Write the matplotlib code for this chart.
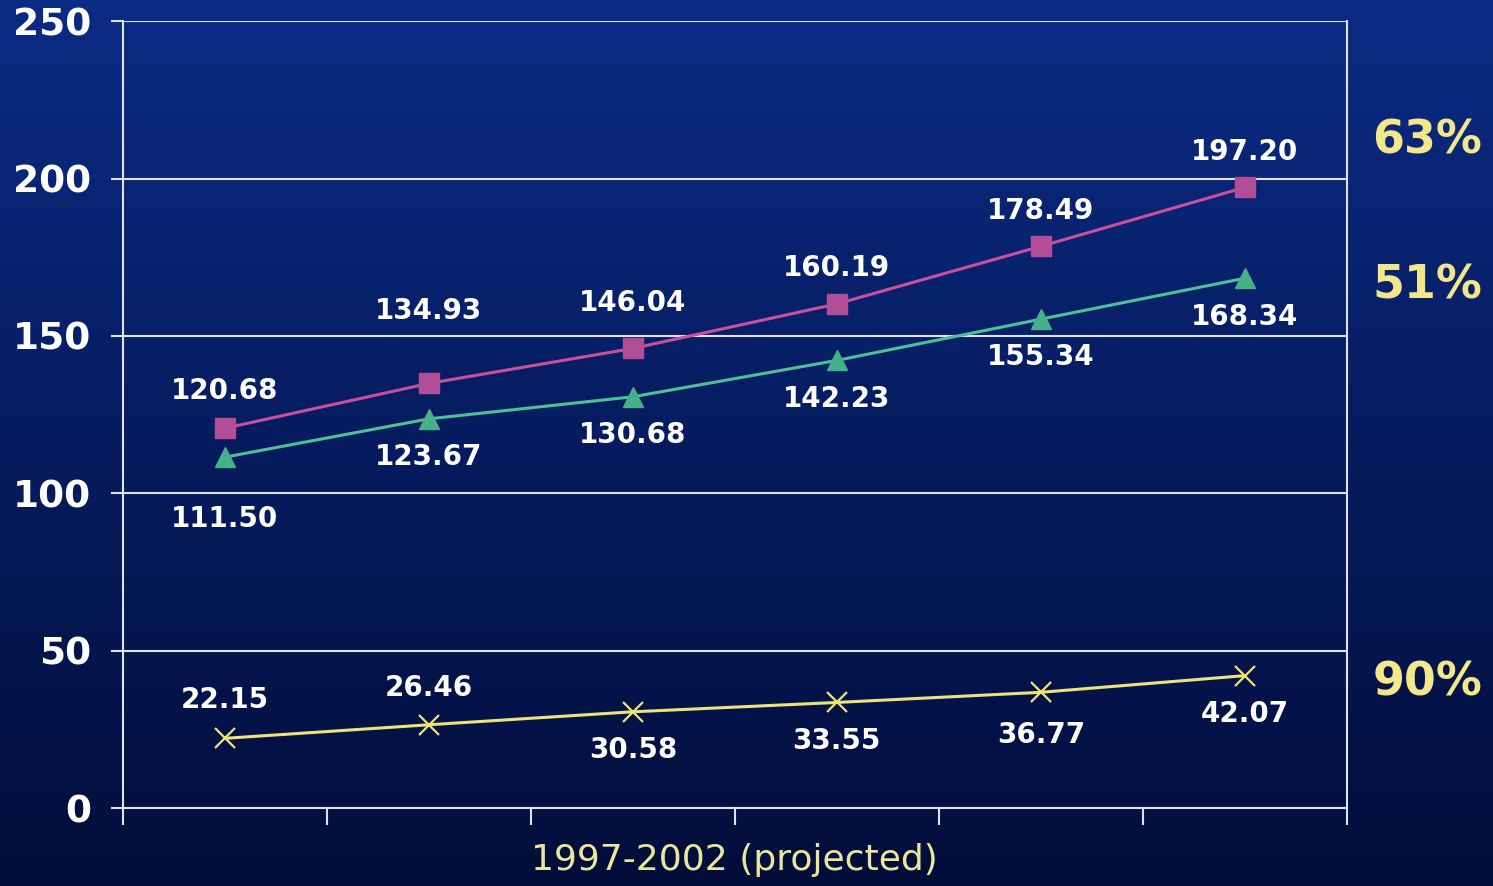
import numpy as np
import matplotlib
matplotlib.use('Agg')
import matplotlib.pyplot as plt

# Datos
years = ['1997', '1998', '1999', '2000', '2001', '2002']
serie_rosa = [120.68, 134.93, 146.04, 160.19, 178.49, 197.20]
serie_verde = [111.50, 123.67, 130.68, 142.23, 155.34, 168.34]
serie_amarilla = [22.15, 26.46, 30.58, 33.55, 36.77, 42.07]
crecimiento = ['63%', '51%', '90%']
crecimiento_y = [212, 166, 39.7]

# desplazamiento vertical de cada etiqueta (px)
off_rosa = [37, 72, 45, 36, 35, 35]
off_verde = [-62, -38, -38, -39, -38, -39]
off_amarilla = [38, 37, -38, -39, -43, -38]

fig = plt.figure(figsize=(14.93, 8.86), dpi=100)

# fondo degradado azul
bg = fig.add_axes([0, 0, 1, 1], zorder=-10)
grad = np.linspace(0, 1, 256).reshape(-1, 1)
top = np.array([0x0b, 0x2b, 0x84]) / 255
bot = np.array([0x02, 0x0d, 0x3a]) / 255
img = top + (bot - top) * grad[:, :, None]
bg.imshow(img, aspect='auto', extent=[0, 1, 0, 1])
bg.axis('off')

ax = fig.add_axes([0.0824, 0.088, 0.8196, 0.888])
ax.patch.set_alpha(0)
x = np.arange(len(years))

grid_c = '#dfe2f2'
ax.plot(x, serie_rosa, color='#c8509c', lw=2.2, marker='s', ms=14,
        mfc='#b24e98', mec='#b24e98', zorder=3)
ax.plot(x, serie_verde, color='#4cc096', lw=2.2, marker='^', ms=15,
        mfc='#45b08a', mec='#45b08a', zorder=3)
ax.plot(x, serie_amarilla, color='#ece37a', lw=2.2, marker='x', ms=15,
        mew=1.6, mec='#ece37a', zorder=3)

def etiquetas(vals, offs):
    for xi, v, o in zip(x, vals, offs):
        ax.annotate(f'{v:.2f}', (xi, v), xytext=(0, o * 0.72),
                    textcoords='offset points', ha='center', va='center',
                    color='white', fontsize=20, fontweight='bold', zorder=4)

etiquetas(serie_rosa, off_rosa)
etiquetas(serie_verde, off_verde)
etiquetas(serie_amarilla, off_amarilla)

ax.set_xlim(-0.5, len(years) - 0.5)
ax.set_ylim(0, 250)
ax.set_yticks([0, 50, 100, 150, 200, 250])
ax.set_xticks(np.arange(len(years) + 1) - 0.5)
ax.set_xticklabels([])
ax.grid(axis='y', color=grid_c, lw=1.5)
ax.set_axisbelow(True)
for s in ['left', 'right', 'bottom']:
    ax.spines[s].set_color(grid_c)
    ax.spines[s].set_linewidth(1.5)
ax.spines['top'].set_visible(False)
ax.tick_params(axis='y', colors=grid_c, length=9, width=1.5, pad=14,
               labelsize=27, labelcolor='white')
ax.tick_params(axis='x', colors=grid_c, length=12, width=1.5)
for t in ax.get_yticklabels():
    t.set_fontweight('bold')

fig.text(0.492, 0.029, '1997-2002 (projected)', color='#ece69a', fontsize=26,
         ha='center', va='center')

for txt, yv in zip(crecimiento, crecimiento_y):
    ax.text(1.066, yv, txt, transform=ax.get_yaxis_transform(), ha='center',
            va='center', color='#f3e78a', fontsize=33, fontweight='bold',
            clip_on=False)

plt.savefig('out.png', dpi=100)
